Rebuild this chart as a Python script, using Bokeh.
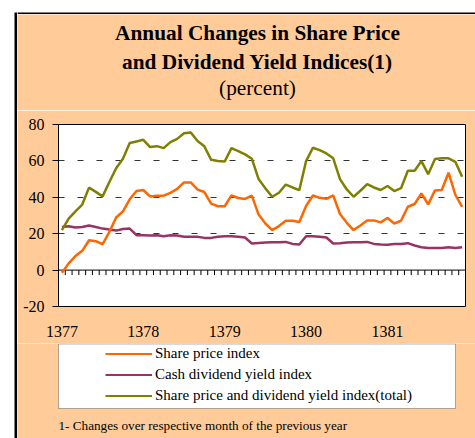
import numpy as np
from bokeh.plotting import figure
from bokeh.layouts import row, column
from bokeh.models import (Range1d, LinearAxis, FixedTicker, Legend, LegendItem,
                          Label, BoxAnnotation, Span)
from bokeh.embed import file_html
from bokeh.resources import INLINE

# ---------------- data ----------------
years = ["1377", "1378", "1379", "1380", "1381"]
months_per_year = 12

share_price = [
    -1.5, 3.7, 7.7, 10.6, 16.4, 15.9, 14.2, 21.0, 28.9, 32.3,
    38.9, 43.5, 44.0, 40.5, 40.9, 40.9, 42.4, 44.6, 48.2, 48.2,
    44.2, 42.9, 36.5, 35.1, 35.1, 41.1, 39.6, 39.1, 40.9, 30.5,
    25.6, 22.0, 24.2, 27.1, 27.1, 26.4, 35.2, 41.0, 39.7, 39.2,
    41.0, 30.8, 26.0, 22.0, 24.5, 27.3, 27.3, 26.2, 28.6, 25.6,
    27.1, 34.8, 36.3, 42.1, 36.1, 43.8, 44.0, 53.5, 41.4, 34.8,
]
cash_dividend = [
    23.7, 24.1, 23.4, 23.7, 24.5, 23.7, 22.8, 22.3, 21.7, 22.6,
    22.8, 19.2, 19.2, 19.0, 19.2, 18.6, 19.2, 19.0, 18.3, 18.3,
    18.3, 17.7, 17.7, 18.3, 18.6, 18.6, 18.3, 17.9, 14.6, 14.9,
    15.2, 15.3, 15.3, 15.5, 14.4, 14.1, 18.6, 18.6, 18.3, 17.9,
    14.6, 14.8, 15.2, 15.3, 15.3, 15.5, 14.4, 14.1, 13.9, 14.4,
    14.4, 14.8, 13.5, 12.6, 12.2, 12.2, 12.2, 12.6, 12.2, 12.6,
]
total_index = [
    21.9, 28.3, 32.3, 36.0, 45.3, 43.0, 40.5, 48.4, 56.0, 61.2,
    69.8, 70.7, 71.6, 67.6, 68.1, 67.0, 70.3, 72.1, 75.2, 75.6,
    70.9, 68.0, 60.6, 59.9, 59.7, 67.0, 65.4, 63.6, 61.2, 50.0,
    44.9, 40.3, 42.5, 47.0, 45.4, 43.9, 59.9, 67.2, 65.9, 64.1,
    61.4, 50.0, 44.3, 40.3, 43.6, 47.3, 45.4, 44.0, 46.2, 43.4,
    45.0, 54.6, 54.6, 59.9, 52.7, 61.0, 61.4, 61.4, 59.5, 51.3,
]
y_ticks = [-20, 0, 20, 40, 60, 80]
y_tick_labels = ["-20", "0", "20", "40", "60", "80"]
grid_values = [20, 40, 60]

series_names = ["Share price index", "Cash dividend yield index",
                "Share price and dividend yield index(total)"]
title_lines = ["Annual Changes in Share Price", "and Dividend Yield Indices(1)"]
subtitle = "(percent)"
footnote = "1- Changes over respective month of the previous year"

# ---------------- style ----------------
SERIF = "Liberation Serif"
PEACH = "#FFCC99"
C_PRICE, C_DIV, C_TOT = "#FF6600", "#993366", "#808000"
n = len(share_price)
x = np.arange(n) + 0.5
month_edges = np.arange(1, n + 1)


def blank_fig(w, h, bg):
    f = figure(width=w, height=h, output_backend="svg", toolbar_location=None,
               x_range=Range1d(0, 1), y_range=Range1d(0, 1),
               x_axis_location=None, y_axis_location=None,
               min_border=0, min_border_left=0, min_border_right=0,
               min_border_top=0, min_border_bottom=0,
               background_fill_color=bg, border_fill_color=bg,
               outline_line_color=None, frame_align=False)
    f.grid.grid_line_color = None
    return f


# ---- left strip (white margin + black card border) ----
left_strip = blank_fig(17, 438, "white")
left_strip.add_layout(BoxAnnotation(left=14, left_units="screen", top=426, top_units="screen",
                                    fill_color="black", fill_alpha=1, line_color=None))

# ---- top strip ----
top_strip = blank_fig(458, 14, "white")
top_strip.add_layout(BoxAnnotation(top=2, top_units="screen",
                                   fill_color="black", fill_alpha=1, line_color=None))

# ---- title area ----
tf = blank_fig(458, 96, PEACH)
for txt, yy, bold in [(title_lines[0], 78, True), (title_lines[1], 48.5, True), (subtitle, 22.5, False)]:
    tf.add_layout(Label(x=240, y=yy, x_units="screen", y_units="screen",
                        text=txt, text_align="center", text_baseline="alphabetic",
                        text_font=SERIF, text_font_size="21.3px",
                        text_font_style="bold" if bold else "normal",
                        text_color="black"))

# ---- main chart ----
p = figure(width=458, height=233, output_backend="svg", toolbar_location=None,
           x_range=Range1d(0, n), y_range=Range1d(-20, 80),
           x_axis_type=None, frame_align=False,
           min_border_left=41, min_border_right=10,
           min_border_top=14, min_border_bottom=37,
           background_fill_color="white", border_fill_color=PEACH,
           outline_line_color="black", outline_line_width=1)

# y axis
p.yaxis.ticker = FixedTicker(ticks=y_ticks)
p.yaxis.major_label_overrides = {t: s for t, s in zip(y_ticks, y_tick_labels)}
p.yaxis.major_tick_out = 6
p.yaxis.major_tick_in = 0
p.yaxis.minor_tick_out = 0
p.yaxis.minor_tick_in = 0
p.yaxis.axis_line_color = "black"
p.yaxis.major_tick_line_color = "black"
p.yaxis.major_label_text_font = SERIF
p.yaxis.major_label_text_font_size = "16px"
p.yaxis.major_label_text_color = "black"
p.yaxis.major_label_standoff = 8

# grid
p.ygrid.ticker = FixedTicker(ticks=grid_values)
p.ygrid.grid_line_color = "#333333"
p.ygrid.grid_line_dash = "6 13"
p.ygrid.grid_line_width = 1

# year labels below the frame
year_ticks = [i * months_per_year + 0.5 for i in range(len(years))]
year_axis = LinearAxis(ticker=FixedTicker(ticks=year_ticks),
                       major_label_overrides={t: y for t, y in zip(year_ticks, years)},
                       major_tick_out=0, major_tick_in=0,
                       minor_tick_out=0, minor_tick_in=0,
                       axis_line_color=None,
                       major_label_standoff=19,
                       major_label_text_font=SERIF,
                       major_label_text_font_size="16px",
                       major_label_text_color="black")
p.add_layout(year_axis, "below")

# category axis on the zero line with month tick marks
p.add_layout(Span(location=0, dimension="width", line_color="black", line_width=1,
                  level="underlay"))
p.ray(x=month_edges, y=np.zeros(n), length=5, length_units="screen",
      angle=-np.pi / 2, line_color="black", line_width=1)

# lines
p.line(x, cash_dividend, line_color=C_DIV, line_width=2.5)
p.line(x, total_index, line_color=C_TOT, line_width=2.5)
p.line(x, share_price, line_color=C_PRICE, line_width=2.5)

# ---- legend + footnote area ----
lf = blank_fig(458, 95, PEACH)
lf.add_layout(BoxAnnotation(left=41, right=438, top=94.5, bottom=30,
                            left_units="screen", right_units="screen",
                            top_units="screen", bottom_units="screen",
                            fill_color="white", fill_alpha=1,
                            line_color="black", line_width=1))
g_price = lf.line(x, share_price, line_color=C_PRICE, line_width=2, visible=False)
g_div = lf.line(x, cash_dividend, line_color=C_DIV, line_width=2, visible=False)
g_tot = lf.line(x, total_index, line_color=C_TOT, line_width=2, visible=False)
legend = Legend(items=[LegendItem(label=series_names[0], renderers=[g_price]),
                       LegendItem(label=series_names[1], renderers=[g_div]),
                       LegendItem(label=series_names[2], renderers=[g_tot])],
                location=(88, 32), orientation="vertical",
                border_line_color=None, background_fill_alpha=0,
                padding=0, spacing=0, margin=0,
                glyph_width=47, glyph_height=21, label_height=21,
                label_standoff=3,
                label_text_font=SERIF, label_text_font_size="15px",
                label_text_color="black")
lf.add_layout(legend)
lf.add_layout(Label(x=41, y=13.5, x_units="screen", y_units="screen",
                    text=footnote, text_align="left", text_baseline="alphabetic",
                    text_font=SERIF, text_font_size="13.2px", text_color="black"))

layout = row(left_strip, column(top_strip, tf, p, lf, spacing=0), spacing=0)

open("out.html", "w").write(file_html(layout, INLINE))
